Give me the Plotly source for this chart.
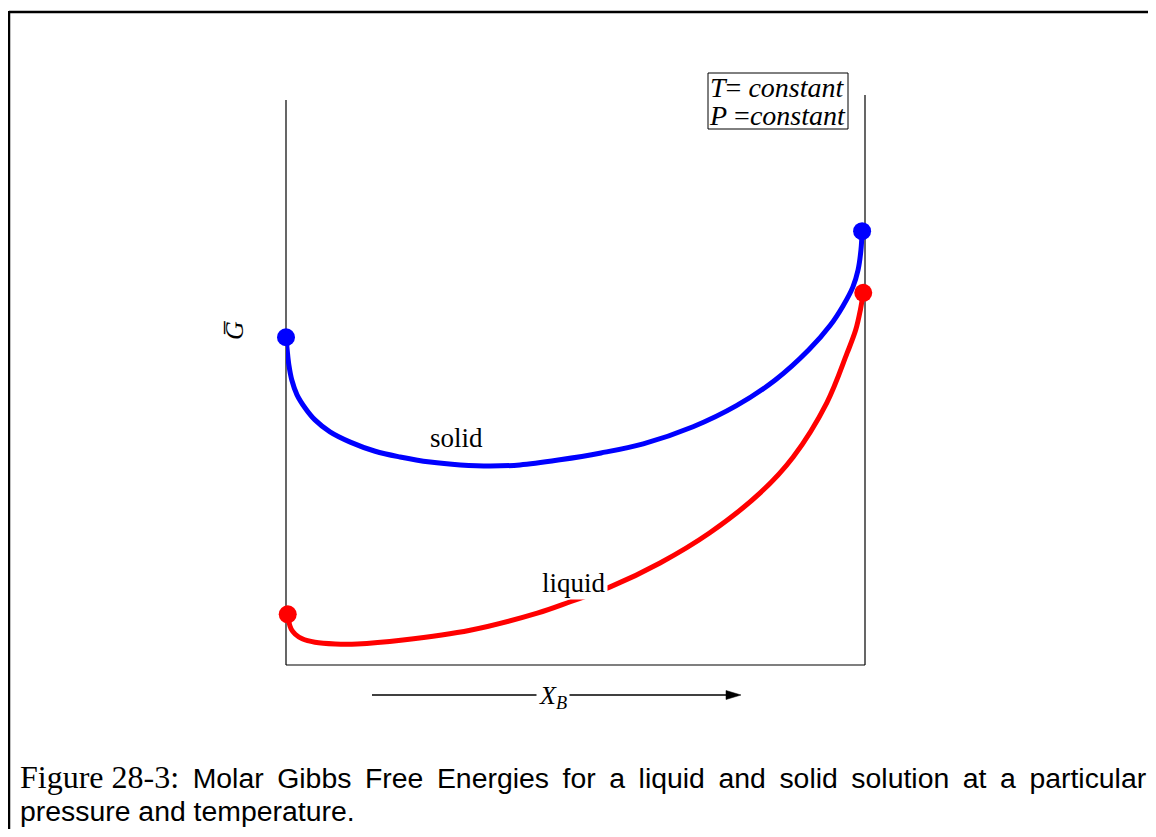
import plotly.graph_objects as go

# ---- data (x = mole fraction X_B, y = molar G, arbitrary units) ----
solid_x = [0.000, 0.002, 0.005, 0.010, 0.019, 0.033, 0.050, 0.076, 0.111, 0.154,
           0.197, 0.249, 0.301, 0.353, 0.404, 0.473, 0.544, 0.617, 0.703, 0.778,
           0.845, 0.903, 0.940, 0.962, 0.979, 0.988, 0.993, 0.995]
solid_g = [0.575, 0.553, 0.526, 0.500, 0.474, 0.451, 0.430, 0.409, 0.391, 0.375,
           0.365, 0.356, 0.351, 0.349, 0.351, 0.360, 0.372, 0.388, 0.418, 0.455,
           0.500, 0.553, 0.596, 0.630, 0.663, 0.693, 0.728, 0.761]

liquid_x = [0.003, 0.005, 0.009, 0.016, 0.028, 0.050, 0.085, 0.123, 0.202, 0.318,
            0.434, 0.491, 0.560, 0.646, 0.732, 0.819, 0.876, 0.934, 0.969, 0.984,
            0.992, 0.997]
liquid_g = [0.089, 0.075, 0.063, 0.054, 0.046, 0.040, 0.037, 0.037, 0.044, 0.061,
            0.091, 0.111, 0.137, 0.179, 0.232, 0.302, 0.365, 0.460, 0.547, 0.588,
            0.623, 0.653]

solid_label = "solid"
liquid_label = "liquid"
conditions = ["<i>T</i>= <i>constant</i>", "<i>P</i> =<i>constant</i>"]
xlabel = "<i>X</i><sub><i>B</i></sub>"
ylabel = "<i>G\u0305</i>"
G = "\u2009 "  # justified caption: slightly widened word gaps
caption_lines = [
    "<span style='font-family:Liberation Serif;font-size:32px'>Figure 28-3:</span>\u2009 "
    + G.join("Molar Gibbs Free Energies for a liquid and solid solution at a particular".split(" ")),
    "pressure and temperature.",
]

# ---- layout geometry (screen pixels; the page body adds an 8px margin) ----
O = 8
FW, FH = 1156 - 2 * O, 837 - 2 * O
L, R, T, B = 286, 865, 95, 665


def px(x):
    return (x - L) / (R - L)


def py(y):
    return (B - y) / (B - T)


SERIF = "Liberation Serif"
SANS = "Liberation Sans"

fig = go.Figure()

fig.add_trace(go.Scatter(
    x=solid_x, y=solid_g, mode="lines",
    line=dict(color="#0000ff", width=5, shape="spline", smoothing=1.0),
    hoverinfo="skip", showlegend=False, cliponaxis=False))
fig.add_trace(go.Scatter(
    x=liquid_x, y=liquid_g, mode="lines",
    line=dict(color="#ff0000", width=5, shape="spline", smoothing=1.0),
    hoverinfo="skip", showlegend=False, cliponaxis=False))
# end points (pure components)
fig.add_trace(go.Scatter(
    x=[solid_x[0], solid_x[-1]], y=[solid_g[0], solid_g[-1]], mode="markers",
    marker=dict(color="#0000ff", size=18), hoverinfo="skip", showlegend=False,
    cliponaxis=False))
fig.add_trace(go.Scatter(
    x=[liquid_x[0], liquid_x[-1]], y=[liquid_g[0], liquid_g[-1]], mode="markers",
    marker=dict(color="#ff0000", size=18), hoverinfo="skip", showlegend=False,
    cliponaxis=False))

ay = py(695)
head = "M {x0},{y0} L {x1},{y1} L {x0},{y2} Z".format(
    x0=px(726), x1=px(741), y0=py(690.5), y1=ay, y2=py(699.5))

shapes = [
    # axes frame: left, right, bottom
    dict(type="line", xref="paper", yref="paper", x0=0, x1=0, y0=0, y1=py(100),
         line=dict(color="black", width=1.2), layer="below"),
    dict(type="line", xref="paper", yref="paper", x0=1, x1=1, y0=0, y1=py(95),
         line=dict(color="black", width=1.2), layer="below"),
    dict(type="line", xref="paper", yref="paper", x0=0, x1=1, y0=0, y1=0,
         line=dict(color="black", width=1.2), layer="below"),
    # page border (top and left)
    dict(type="line", xref="paper", yref="paper", x0=px(9), x1=px(1160), y0=py(12), y1=py(12),
         line=dict(color="black", width=2.5)),
    dict(type="line", xref="paper", yref="paper", x0=px(9), x1=px(9), y0=py(11), y1=py(840),
         line=dict(color="black", width=2.5)),
    # conditions box
    dict(type="rect", xref="paper", yref="paper", x0=px(708), x1=px(848), y0=py(129), y1=py(73),
         line=dict(color="black", width=1), fillcolor="white", layer="below"),
    # X_B arrow: shaft and head
    dict(type="line", xref="paper", yref="paper", x0=px(372), x1=px(730), y0=ay, y1=ay,
         line=dict(color="black", width=1.3)),
    dict(type="path", xref="paper", yref="paper", path=head,
         fillcolor="black", line=dict(color="black", width=0.5)),
]

annotations = [
    dict(text=solid_label, x=px(456), y=py(438), xref="paper", yref="paper",
         xanchor="center", yanchor="middle",
         showarrow=False, font=dict(family=SERIF, size=27, color="black")),
    dict(text=liquid_label, x=px(574), y=py(583), xref="paper", yref="paper",
         xanchor="center", yanchor="middle",
         showarrow=False, bgcolor="white", borderpad=1,
         font=dict(family=SERIF, size=27, color="black")),
    dict(text=conditions[0], x=px(777), y=py(88), xref="paper", yref="paper",
         xanchor="center", yanchor="middle",
         showarrow=False, font=dict(family=SERIF, size=28, color="black")),
    dict(text=conditions[1], x=px(777), y=py(115), xref="paper", yref="paper",
         xanchor="center", yanchor="middle",
         showarrow=False, font=dict(family=SERIF, size=28, color="black")),
    # G-bar axis label
    dict(text=ylabel, x=px(234), y=py(331), xref="paper", yref="paper",
         xanchor="center", yanchor="middle",
         showarrow=False, textangle=-90, font=dict(family=SERIF, size=26, color="black")),
    # X_B label on the arrow
    dict(text=xlabel, x=px(553), y=py(697), xref="paper", yref="paper",
         xanchor="center", yanchor="middle",
         showarrow=False, bgcolor="white", borderpad=2,
         font=dict(family=SERIF, size=26, color="black")),
    # caption
    dict(text=caption_lines[0], x=px(18), y=py(777), xref="paper", yref="paper",
         xanchor="left", yanchor="middle", showarrow=False,
         font=dict(family=SANS, size=28.4, color="black")),
    dict(text=caption_lines[1], x=px(18), y=py(811), xref="paper", yref="paper",
         xanchor="left", yanchor="middle", showarrow=False,
         font=dict(family=SANS, size=28.4, color="black")),
]

fig.update_layout(
    width=FW, height=FH,
    margin=dict(l=L - O, r=(O + FW) - R, t=T - O, b=(O + FH) - B, pad=0),
    paper_bgcolor="white", plot_bgcolor="white",
    xaxis=dict(range=[0, 1], visible=False, fixedrange=True),
    yaxis=dict(range=[0, 1], visible=False, fixedrange=True),
    shapes=shapes, annotations=annotations,
)

fig.write_html("out.html")
